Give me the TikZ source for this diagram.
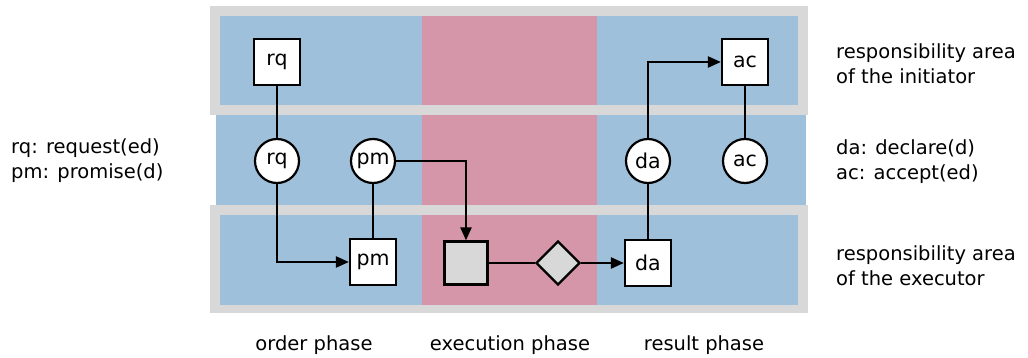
\documentclass[tikz,border=0pt]{standalone}
\usepackage{fontspec}
\setmainfont{DejaVu Sans}
\usetikzlibrary{arrows.meta,shapes.geometric}
\definecolor{laneblue}{RGB}{159,192,218}
\definecolor{phasepink}{RGB}{213,150,170}
\definecolor{framegray}{RGB}{216,216,216}
\definecolor{execgray}{RGB}{216,216,216}
\begin{document}
\begin{tikzpicture}[x=1pt,y=-1pt,
  txt/.style={font=\fontsize{19.5}{25}\selectfont},
  nodetxt/.style={font=\fontsize{20.5}{25}\selectfont},
  actsq/.style={draw=black,line width=2.2pt,fill=white,rectangle,minimum size=46pt,inner sep=0pt,nodetxt},
  factc/.style={draw=black,line width=2.2pt,fill=white,circle,minimum size=44pt,inner sep=0pt,nodetxt},
  execsq/.style={draw=black,line width=2.2pt,fill=execgray,rectangle,minimum size=43pt,inner sep=0pt},
  execdia/.style={draw=black,line width=2.2pt,fill=execgray,diamond,aspect=1,minimum size=44pt,inner sep=0pt},
  lbl/.style={txt,align=left,inner sep=0pt,anchor=west},
  phaselbl/.style={txt,inner sep=0pt,anchor=base},
  link/.style={draw=black,line width=2.2pt},
  flow/.style={link,-{Triangle[length=13pt,width=11pt]}}]
\useasboundingbox (0,0) rectangle (1028,358);

% middle row (coordination)
\fill[laneblue] (216,115) rectangle (806,205);
% framed rows: initiator (top) and executor (bottom)
\fill[framegray] (210,6) rectangle (808,115);
\fill[laneblue] (220,16) rectangle (798,105);
\fill[framegray] (210,205) rectangle (808,313);
\fill[laneblue] (220,215) rectangle (798,305);
% execution phase column
\fill[phasepink] (422,16) rectangle (597,105);
\fill[phasepink] (422,115) rectangle (597,205);
\fill[phasepink] (422,215) rectangle (597,305);

% acts and facts
\node[actsq] (rqs) at (277,62) {rq};
\node[factc] (rqc) at (277,161) {rq};
\node[factc] (pmc) at (373,161) {pm};
\node[actsq] (pms) at (373,262) {pm};
\node[execsq] (exs) at (466,263) {};
\node[execdia] (exd) at (558,263) {};
\node[actsq] (das) at (648,263) {da};
\node[factc] (dac) at (648,161) {da};
\node[factc] (acc) at (745,161) {ac};
\node[actsq] (acs) at (745,62) {ac};

% connectors
\draw[link] (rqs) -- (rqc);
\draw[flow] (rqc.south) |- (pms.west);
\draw[link] (pmc) -- (pms);
\draw[flow] (pmc.east) -| (exs.north);
\draw[link] (exs) -- (exd);
\draw[flow] (exd.east) -- (das.west);
\draw[link] (das) -- (dac);
\draw[flow] (dac.north) |- (acs.west);
\draw[link] (acs) -- (acc);

% legends
\node[lbl] (legl) at (11,161) {rq: request(ed)\\pm: promise(d)};
\node[lbl] (legr) at (836,162) {da: declare(d)\\ac: accept(ed)};
\node[lbl] (areai) at (836,64) {responsibility area\\of the initiator};
\node[lbl] (areae) at (836,266) {responsibility area\\of the executor};

% phases
\node[phaselbl] (ph1) at (314,350) {order phase};
\node[phaselbl] (ph2) at (510,350) {execution phase};
\node[phaselbl] (ph3) at (704,350) {result phase};
\end{tikzpicture}
\end{document}
